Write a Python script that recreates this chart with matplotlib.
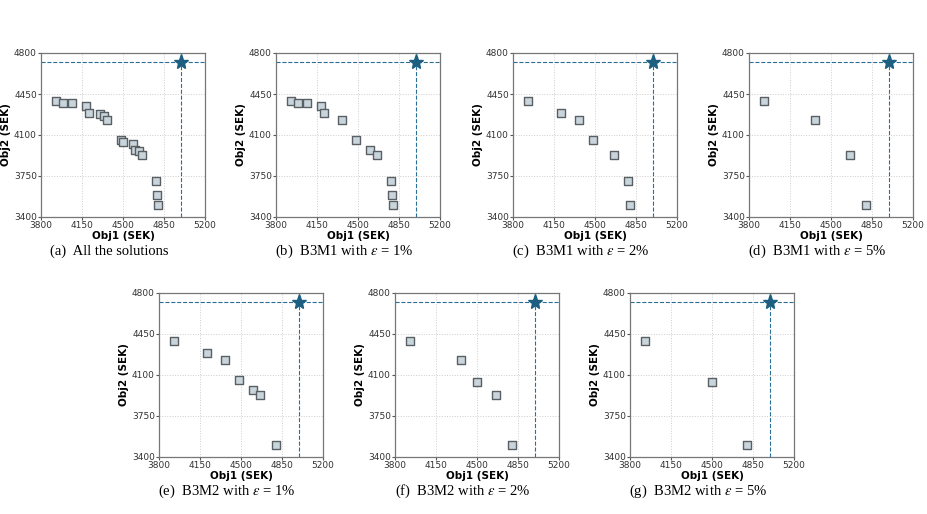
import matplotlib
matplotlib.use("Agg")
import matplotlib.pyplot as plt

# Data: all solutions (Obj1, Obj2) in SEK
obj1_all = [3930, 3990, 4068, 4188, 4206, 4304, 4341, 4360, 4487, 4503,
            4585, 4605, 4640, 4658, 4785, 4790, 4795]
obj2_all = [4390, 4375, 4375, 4346, 4289, 4277, 4266, 4229, 4059, 4036,
            4022, 3974, 3965, 3928, 3709, 3590, 3505]

# ideal point
ideal_x = 4995
ideal_y = 4725

# indices of solutions kept by each method
subsets = {
    "a": list(range(17)),
    "b": [0, 1, 2, 3, 4, 7, 8, 11, 13, 14, 15, 16],
    "c": [0, 4, 7, 8, 13, 14, 16],
    "d": [0, 7, 13, 16],
    "e": [0, 4, 7, 8, 11, 13, 16],
    "f": [0, 7, 9, 13, 16],
    "g": [0, 9, 16],
}

captions = {
    "a": "(a)  All the solutions",
    "b": r"(b)  B3M1 with $\epsilon$ = 1%",
    "c": r"(c)  B3M1 with $\epsilon$ = 2%",
    "d": r"(d)  B3M1 with $\epsilon$ = 5%",
    "e": r"(e)  B3M2 with $\epsilon$ = 1%",
    "f": r"(f)  B3M2 with $\epsilon$ = 2%",
    "g": r"(g)  B3M2 with $\epsilon$ = 5%",
}

ticks = [3400, 3750, 4100, 4450, 4800]
xticks = [3800, 4150, 4500, 4850, 5200]

plt.rcParams["mathtext.fontset"] = "stix"

W, H = 928, 514
fig = plt.figure(figsize=(W / 100, H / 100), dpi=100)

# axes positions in pixels (left, top)
positions = {
    "a": (41, 53), "b": (276, 53), "c": (513, 53), "d": (749, 53),
    "e": (159, 293), "f": (395, 293), "g": (630, 293),
}
size = 164

for key, (left, top) in positions.items():
    ax = fig.add_axes([left / W, 1 - (top + size) / H, size / W, size / H])
    idx = subsets[key]
    xs = [obj1_all[i] for i in idx]
    ys = [obj2_all[i] for i in idx]
    ax.scatter(xs, ys, marker="s", s=34, facecolor="#c9d5dc",
               edgecolor="#5a5f63", linewidth=1.0, zorder=3)
    ax.axhline(ideal_y, color="#2b6f96", linestyle="--", linewidth=0.8, zorder=2)
    ax.axvline(ideal_x, color="#2b6f96", linestyle="--", linewidth=0.8, zorder=2)
    ax.plot([ideal_x], [ideal_y], marker="*", markersize=11, color="#1c5f80",
            zorder=4, linestyle="none")
    ax.set_xlim(3800, 5200)
    ax.set_ylim(3400, 4800)
    ax.set_xticks(xticks)
    ax.set_yticks(ticks)
    ax.tick_params(labelsize=6.5, length=2, pad=1, color="#555555",
                   labelcolor="#333333")
    ax.grid(True, linestyle=":", color="#cccccc", linewidth=0.7)
    ax.set_axisbelow(True)
    for sp in ax.spines.values():
        sp.set_color("#777777")
        sp.set_linewidth(0.9)
    ax.set_xlabel("Obj1 (SEK)", fontsize=7.5, fontweight="bold", labelpad=0.5)
    ax.set_ylabel("Obj2 (SEK)", fontsize=7.5, fontweight="bold", labelpad=2)

    cx = left + size / 2 - 14
    cy = top + size + 34
    fig.text(cx / W, 1 - cy / H, captions[key], ha="center", va="center",
             fontsize=10.5, family="Liberation Serif")

fig.savefig("out.png", dpi=100)
